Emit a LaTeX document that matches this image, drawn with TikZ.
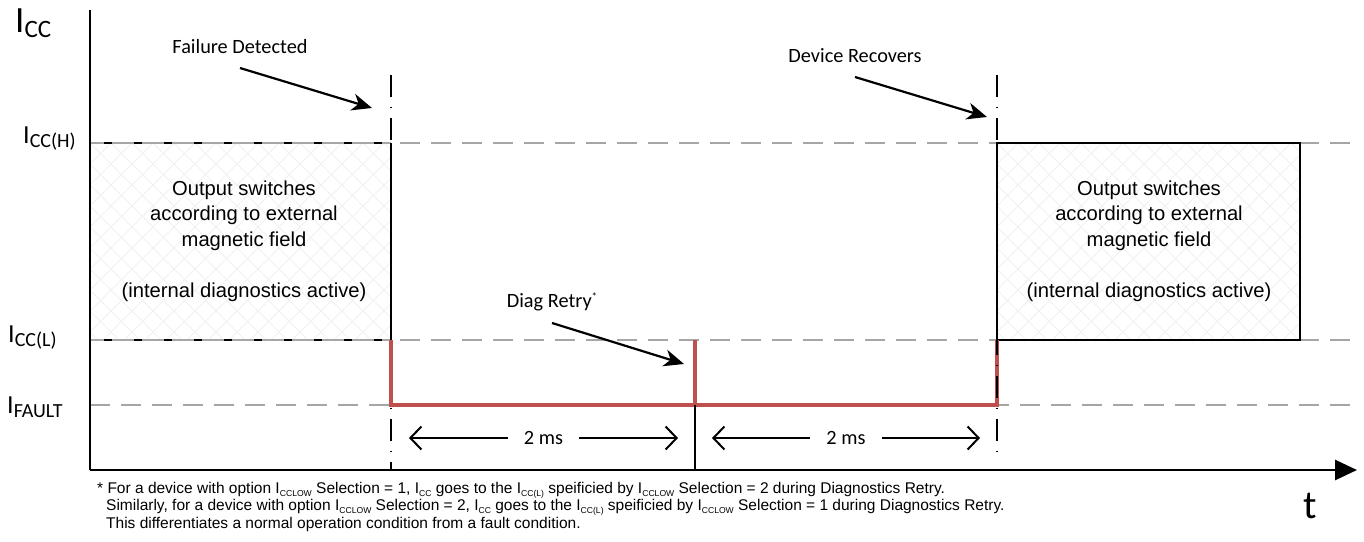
\documentclass[tikz,border=0pt]{standalone}
\usepackage{fontspec}
\setmainfont{Carlito}
\newfontfamily\arialf{Liberation Sans}
\usetikzlibrary{arrows.meta}
\definecolor{guide}{HTML}{A6A6A6}
\definecolor{trace}{HTML}{C0504D}
\definecolor{hatch}{HTML}{F0F0F0}
\newcommand\levellabel[4]{{\fontsize{#1}{#1}\selectfont I}\raisebox{#4}{\fontsize{#2}{#2}\selectfont #3}}
\newcommand\fsub[1]{I\raisebox{-3pt}{\fontsize{8.6}{8.6}\selectfont #1}}
\begin{document}
\begin{tikzpicture}[x=1pt,y=-1pt,
  guideline/.style={guide, line width=2.6pt, dash pattern=on 20pt off 11pt},
  dashdot/.style={black, line width=2.2pt, dash pattern=on 22pt off 9.5pt on 1.5pt off 10pt},
  edge/.style={black, line width=2.4pt},
  axis/.style={black, line width=2.8pt},
  tracestyle/.style={trace, line width=4pt, line join=miter},
  callout/.style={-{Stealth[length=20pt,width=17pt,inset=6pt]}, line width=2.2pt, shorten >=0pt},
  spanline/.style={{Straight Barb[length=11pt,width=23pt]}-{Straight Barb[length=11pt,width=23pt]}, line width=2pt},
  hatchline/.style={hatch, line width=1pt},
  lbl/.style={font=\fontsize{20.3}{22}\selectfont, inner sep=0pt},
  boxtext/.style={font=\arialf\fontsize{20.2}{25.5}\selectfont, align=center, inner sep=0pt},
  foot/.style={font=\arialf\fontsize{15.5}{17}\selectfont, inner sep=0pt, anchor=base west},
]
\useasboundingbox (0,0) rectangle (1364,541);

% hatch fills
\begin{scope}
  \clip (90,143) rectangle (391,340);
  \foreach \k in {-12,...,26} {
    \draw[hatchline] (90+\k*21,143) -- ++(220,220);
    \draw[hatchline] (90+\k*21,143) -- ++(-220,220);
  }
\end{scope}
\begin{scope}
  \clip (997,143) rectangle (1300,340);
  \foreach \k in {-12,...,26} {
    \draw[hatchline] (997+\k*21,143) -- ++(220,220);
    \draw[hatchline] (997+\k*21,143) -- ++(-220,220);
  }
\end{scope}

% level coordinates
\coordinate (hL) at (90,143);   \coordinate (hR) at (1357,143);
\coordinate (lL) at (90,340);   \coordinate (lR) at (1357,340);
\coordinate (fL) at (90,405);   \coordinate (fR) at (1357,405);

% gray guide lines
\draw[guideline] (hL) -- (hR);
\draw[guideline] (lL) -- (lR);
\draw[guideline] (fL) -- (fR);

% left box top/bottom
\coordinate (bLtr) at (391,143);
\coordinate (bLbr) at (391,340);
\draw[guide, line width=2.6pt] (hL) -- (bLtr);
\draw[guide, line width=2.6pt] (lL) -- (bLbr);
\draw[black, line width=2.6pt, dash pattern=on 8pt off 22pt, dash phase=-14pt] (hL) -- (bLtr);
\draw[black, line width=2.6pt, dash pattern=on 8pt off 22pt, dash phase=-14pt] (lL) -- (bLbr);

% dash-dot marker at failure
\coordinate (m1top) at (391,75);
\coordinate (m1bot) at (391,470);
\draw[dashdot] (m1top) -- (m1bot);

% box edges
\draw[edge] (bLtr) -- (bLbr);
\coordinate (bRtl) at (997,143);
\coordinate (bRbr) at (1300,340);
\draw[edge] (bRtl) rectangle (bRbr);

% red trace
\coordinate (t1) at (391,340);
\coordinate (t2) at (391,405);
\coordinate (t3) at (997,405);
\coordinate (t4) at (997,340);
\coordinate (r1) at (695,405);
\coordinate (r2) at (695,340);
\coordinate (r3) at (695,470);
\draw[tracestyle] (t1) -- (t2) -- (t3) -- (t4);
\draw[tracestyle, line cap=butt] (r1) -- (r2);

% dash-dot marker at recovery
\coordinate (m2top) at (997,75);
\coordinate (m2bot) at (997,462);
\draw[dashdot] (m2top) -- (m2bot);

% retry marker
\draw[edge] (r1) -- (r3);

% axes
\coordinate (origin) at (90,470);
\coordinate (ytop) at (90,10);
\coordinate (xend) at (1357,470);
\draw[axis] (origin) -- (ytop);
\draw[axis, -{Triangle[length=22pt,width=20pt]}] (origin) -- (xend);

% axis labels
\node[inner sep=0pt, anchor=base west] (icc) at (15,32) {\levellabel{37}{25}{CC}{-5pt}};
\node[inner sep=0pt, anchor=base west] (lblh) at (23,143) {\levellabel{26}{20}{CC(H)}{-4pt}};
\node[inner sep=0pt, anchor=base west] (lbll) at (8,342) {\levellabel{26}{20}{CC(L)}{-4pt}};
\node[inner sep=0pt, anchor=base west] (lblf) at (7,413) {\levellabel{26}{20}{FAULT}{-4pt}};
\node[inner sep=0pt, anchor=base] (tlbl) at (1310,518) {\fontsize{40}{40}\selectfont t};

% box texts
\node[boxtext] (txtL) at (244,241) {Output switches\\according to external\\magnetic field\\[25.5pt](internal diagnostics active)};
\node[boxtext] (txtR) at (1149,241) {Output switches\\according to external\\magnetic field\\[25.5pt](internal diagnostics active)};

% callouts
\node[lbl] (fail) at (240,47) {Failure Detected};
\node[lbl] (recov) at (855,56) {Device Recovers};
\node[lbl] (retry) at (552,302) {Diag Retry\raisebox{7pt}{\fontsize{11}{11}\selectfont *}};
\coordinate (failtail) at (240,68);
\coordinate (failtip) at (372,108);
\coordinate (rectail) at (855,77);
\coordinate (rectip) at (987,117);
\coordinate (rettail) at (552,323);
\coordinate (rettip) at (684,364);
\draw[callout] (failtail) -- (failtip);
\draw[callout] (rectail) -- (rectip);
\draw[callout] (rettail) -- (rettip);

% 2 ms spans
\coordinate (s1a) at (409,438);
\coordinate (s1b) at (678,438);
\coordinate (s2a) at (712,438);
\coordinate (s2b) at (980,438);
\draw[spanline] (s1a) -- node[lbl, fill=white, inner xsep=16pt, inner ysep=4pt] (ms1) {2 ms} (s1b);
\draw[spanline] (s2a) -- node[lbl, fill=white, inner xsep=16pt, inner ysep=4pt] (ms2) {2 ms} (s2b);

% footnote
\node[foot] (foot1) at (97,493) {* For a device with option \fsub{CCLOW} Selection = 1, \fsub{CC} goes to the \fsub{CC(L)} speificied by \fsub{CCLOW} Selection = 2 during Diagnostics Retry.};
\node[foot] (foot2) at (106,510.5) {Similarly, for a device with option \fsub{CCLOW} Selection = 2, \fsub{CC} goes to the \fsub{CC(L)} speificied by \fsub{CCLOW} Selection = 1 during Diagnostics Retry.};
\node[foot] (foot3) at (106,528) {This differentiates a normal operation condition from a fault condition.};
\end{tikzpicture}
\end{document}
